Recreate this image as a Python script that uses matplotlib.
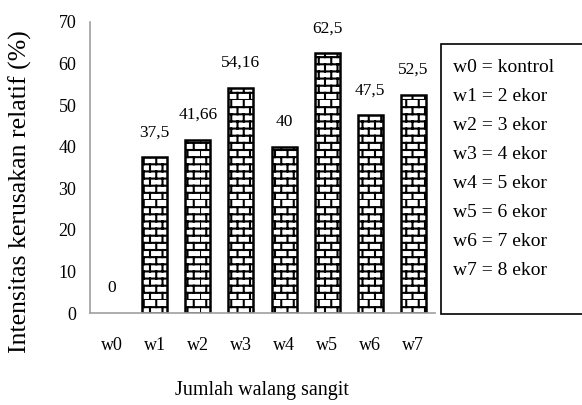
import warnings
import numpy as np
import matplotlib
matplotlib.use("Agg")
import matplotlib.pyplot as plt
import matplotlib.hatch as mhatch
from matplotlib.patches import Rectangle

warnings.filterwarnings("ignore")

# data
kategori = ["w0", "w1", "w2", "w3", "w4", "w5", "w6", "w7"]
intensitas = [0, 37.5, 41.66, 54.16, 40, 62.5, 47.5, 52.5]
label_nilai = ["0", "37,5", "41,66", "54,16", "40", "62,5", "47,5", "52,5"]
keterangan = ["w0 = kontrol", "w1 = 2 ekor", "w2 = 3 ekor", "w3 = 4 ekor",
              "w4 = 5 ekor", "w5 = 6 ekor", "w6 = 7 ekor", "w7 = 8 ekor"]
y_ticks = [0, 10, 20, 30, 40, 50, 60, 70]


# brick hatch ("B"), drawn in the unit hatch tile
class BrickHatch(mhatch.HatchPatternBase):
    def __init__(self, hatch, density):
        self.on = hatch.count("B") > 0
        self.rows = 14
        self.cols = 8
        if self.on:
            self.num_vertices = 2 * self.rows + 2 * self.rows * self.cols
        else:
            self.num_vertices = 0

    def set_vertices_and_codes(self, vertices, codes):
        k = 0
        for i in range(self.rows):
            y0 = i / self.rows
            y1 = (i + 1) / self.rows
            vertices[k] = (0, y0)
            vertices[k + 1] = (1, y0)
            codes[k] = 1
            codes[k + 1] = 2
            k += 2
            off = 0.5 * (i % 2)
            for j in range(self.cols):
                x = (j + off) / self.cols
                vertices[k] = (x, y0)
                vertices[k + 1] = (x, y1)
                codes[k] = 1
                codes[k + 1] = 2
                k += 2


mhatch._hatch_types.append(BrickHatch)

plt.rcParams["font.family"] = ["Liberation Serif", "DejaVu Serif"]
plt.rcParams["hatch.linewidth"] = 1.5
plt.rcParams["hatch.color"] = "black"

fig = plt.figure(figsize=(5.82, 4.05), dpi=100)
fig.patch.set_facecolor("white")
ax = fig.add_axes([0.155, 0.227, 0.592, 0.719])

x = np.arange(len(kategori))
bars = ax.bar(x, intensitas, width=0.58, color="white", edgecolor="black",
              linewidth=1.8, hatch="B")
for b, v in zip(bars, intensitas):
    if v == 0:
        b.set_edgecolor("none")

for xi, v, t in zip(x, intensitas, label_nilai):
    ax.annotate(t, xy=(xi, v), xytext=(0, 12), textcoords="offset points",
                ha="center", va="bottom", fontsize=12.5)

ax.set_xlim(-0.5, len(kategori) - 0.5)
ax.set_ylim(0, 70)
ax.set_yticks(y_ticks)
ax.set_xticks(x)
ax.set_xticklabels(kategori)
ax.tick_params(axis="both", length=0, labelsize=13)
ax.tick_params(axis="x", pad=17)
ax.tick_params(axis="y", pad=10)

for s in ["top", "right"]:
    ax.spines[s].set_visible(False)
ax.spines["left"].set_color("#a0a0a0")
ax.spines["bottom"].set_color("#a0a0a0")
ax.spines["left"].set_linewidth(1.2)
ax.spines["bottom"].set_linewidth(1.2)

fig.text(20 / 582, 1 - 192 / 405, "Intensitas kerusakan relatif (%)",
         rotation=90, ha="center", va="center", fontsize=18.5)
fig.text(0.45, 0.035, "Jumlah walang sangit", ha="center", va="center",
         fontsize=14.5)

# keterangan box on the right
box = Rectangle((441 / 582, 1 - 314 / 405), 0.26, (314 - 44) / 405,
                transform=fig.transFigure, facecolor="white",
                edgecolor="black", linewidth=1.2)
fig.patches.append(box)
for i, t in enumerate(keterangan):
    fig.text(453 / 582, 1 - (68 + i * 28.9) / 405, t, ha="left",
             va="center", fontsize=14)

fig.savefig("out.png", dpi=100)
